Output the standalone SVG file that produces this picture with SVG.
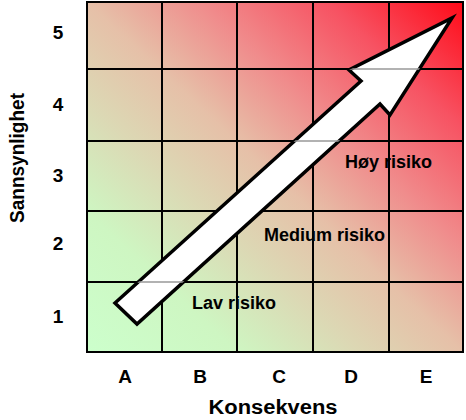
<svg xmlns="http://www.w3.org/2000/svg" width="466" height="420" viewBox="0 0 466 420">
<style>
text{font-family:"Liberation Sans",Arial,sans-serif;font-weight:bold;fill:#000}
.ax{font-size:19px;text-anchor:middle}
.zone{font-size:18px}
.title{font-size:20px;text-anchor:middle}
.grid{stroke:#000;stroke-width:2;fill:none}
</style>
<defs>
<linearGradient id="risk" x1="0" y1="1" x2="1" y2="0">
<stop offset="0" stop-color="#ccffcc"/>
<stop offset="0.2" stop-color="#cef6c2"/>
<stop offset="0.36" stop-color="#dcd8b4"/>
<stop offset="0.5" stop-color="#e6c0a8"/>
<stop offset="0.65" stop-color="#f08c8c"/>
<stop offset="0.82" stop-color="#f75262"/>
<stop offset="1" stop-color="#ff0a18"/>
</linearGradient>
<clipPath id="arrowClip">
<polygon points="115,303 361,81 349,70 452,18 390,115 380,104 137,324"/>
</clipPath>
</defs>
<g id="matrix">
<rect x="87" y="2" width="376" height="350" fill="url(#risk)"/>
<path class="grid" d="M162,2V352M237,2V352M313,2V352M389,2V352M87,69H463M87,141H463M87,211H463M87,282H463"/>
<rect class="grid" x="87" y="2" width="376" height="350"/>
</g>
<g id="arrow">
<polygon points="115,303 361,81 349,70 452,18 390,115 380,104 137,324" fill="#fff" stroke="#000" stroke-width="3.5" stroke-linejoin="miter"/>
<g clip-path="url(#arrowClip)">
<path d="M87,69H463M87,141H463M87,282H463" stroke="#999" stroke-width="1.5"/>
</g>
</g>
<g id="zones">
<text class="zone" x="345" y="168">Høy risiko</text>
<text class="zone" x="264" y="241">Medium risiko</text>
<text class="zone" x="192" y="309">Lav risiko</text>
</g>
<g id="y-axis">
<text class="ax" x="58" y="39">5</text>
<text class="ax" x="58" y="111">4</text>
<text class="ax" x="58" y="182">3</text>
<text class="ax" x="58" y="250">2</text>
<text class="ax" x="58" y="323">1</text>
<text class="title" transform="translate(24,158) rotate(-90)" textLength="130" lengthAdjust="spacingAndGlyphs">Sannsynlighet</text>
</g>
<g id="x-axis">
<text class="ax" x="125" y="383">A</text>
<text class="ax" x="200" y="383">B</text>
<text class="ax" x="279" y="383">C</text>
<text class="ax" x="351" y="383">D</text>
<text class="ax" x="426" y="383">E</text>
<text class="title" x="273" y="414" textLength="129" lengthAdjust="spacingAndGlyphs">Konsekvens</text>
</g>
</svg>
